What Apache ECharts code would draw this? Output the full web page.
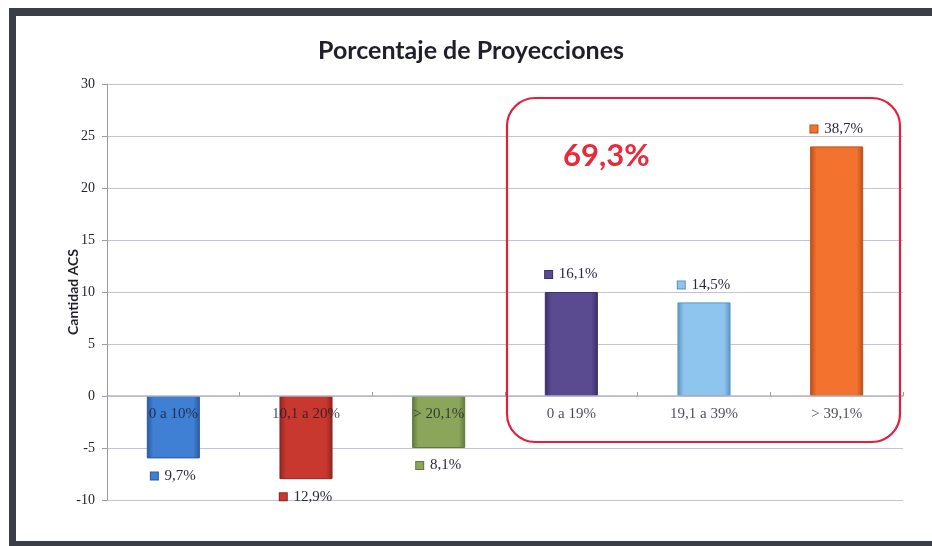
<!DOCTYPE html>
<html>
<head>
<meta charset="utf-8">
<script src="https://cdn.jsdelivr.net/npm/echarts@6/dist/echarts.min.js"></script>
<style>
  html, body { margin: 0; padding: 0; background: #fff; }
  #chart { width: 932px; height: 546px; }
</style>
</head>
<body>
<div id="chart"></div>
<script>
// datos
const categories = ["0 a 10%", "10,1 a 20%", "> 20,1%", "0 a 19%", "19,1 a 39%", "> 39,1%"];
const values = [-6, -8, -5, 10, 9, 24];
const percentLabels = ["9,7%", "12,9%", "8,1%", "16,1%", "14,5%", "38,7%"];
const barColors = ["#3f7fd4", "#c8382f", "#8ba65a", "#5a4a90", "#8ec5ef", "#f2722e"];
const edgeColors = ["#2a5a9c", "#8e2520", "#5f7a3a", "#3a2f66", "#5b93bf", "#b84e1a"];
const yTicks = [-10, 30, 5];
const totalLabel = "69,3%";

const chart = echarts.init(document.getElementById("chart"));

const seriesData = values.map((v, i) => ({
  value: v,
  itemStyle: {
    color: new echarts.graphic.LinearGradient(0, 0, 1, 0, [
      { offset: 0, color: edgeColors[i] },
      { offset: 0.12, color: barColors[i] },
      { offset: 0.88, color: barColors[i] },
      { offset: 1, color: edgeColors[i] }
    ]),
    borderColor: edgeColors[i],
    borderWidth: 1
  },
  label: {
    position: v < 0 ? "bottom" : "top",
    formatter: "{sq|}  {t|" + percentLabels[i] + "}",
    rich: {
      sq: { width: 7, height: 7, backgroundColor: barColors[i], borderColor: edgeColors[i], borderWidth: 1 },
      t: { fontFamily: "Liberation Serif", fontSize: 15, color: "#2a2a3a" }
    }
  }
}));

chart.setOption({
  animation: false,
  backgroundColor: "#fff",
  title: {
    text: "Porcentaje de Proyecciones",
    left: 466,
    textAlign: "center",
    top: 33,
    textStyle: { fontFamily: "Lato", fontWeight: "bold", fontSize: 25, color: "#1f1f2a" }
  },
  grid: { left: 107, right: 29, top: 84, bottom: 46 },
  xAxis: {
    type: "category",
    data: categories,
    z: 5,
    axisLine: { onZero: true, lineStyle: { color: "#b8b8c8", width: 1.5 } },
    axisTick: { show: true, inside: true, length: 4, lineStyle: { color: "#9a9aaa" } },
    axisLabel: { show: false },
    splitLine: { show: false }
  },
  yAxis: {
    type: "value",
    min: yTicks[0],
    max: yTicks[1],
    interval: yTicks[2],
    name: "Cantidad ACS",
    nameLocation: "middle",
    nameGap: 27,
    nameMoveOverlap: false,
    nameTextStyle: { fontFamily: "Lato", fontWeight: "bold", fontSize: 14, color: "#1f1f2a" },
    axisLine: { show: true, lineStyle: { color: "#9a9aa8" } },
    axisTick: { show: true, length: 5, lineStyle: { color: "#9a9aa8" } },
    axisLabel: { margin: 12, fontFamily: "Liberation Serif", fontSize: 14, color: "#1f1f2a" },
    splitLine: { lineStyle: { color: "#c4c4d4", width: 1.2 } }
  },
  series: [{
    type: "bar",
    data: seriesData,
    barWidth: "40%",
    label: { show: true, distance: 10 }
  }, {
    // nombres de categoría anclados en la línea del cero
    type: "scatter",
    z: 6,
    symbolSize: 0,
    silent: true,
    data: categories.map(() => 0),
    label: {
      show: true,
      position: "bottom",
      distance: 11,
      formatter: (p) => categories[p.dataIndex],
      fontFamily: "Liberation Serif",
      fontSize: 15,
      color: "#1c1c30"
    }
  }],
  graphic: [
    // marco oscuro
    { type: "rect", shape: { x: 9, y: 8, width: 923, height: 8 }, style: { fill: "#3b3e47" } },
    { type: "rect", shape: { x: 9, y: 8, width: 7, height: 538 }, style: { fill: "#3b3e47" } },
    { type: "rect", shape: { x: 9, y: 541, width: 923, height: 5 }, style: { fill: "#3b3e47" } },
    // recuadro rojo
    {
      type: "rect", z: 10,
      shape: { x: 507, y: 98, width: 393, height: 344, r: 28 },
      style: { fill: "none", stroke: "#e0203c", lineWidth: 2.2 }
    },
    {
      type: "text", z: 10, left: 563, top: 140,
      style: { text: totalLabel, fill: "#e82a3a", font: "bold 31px Lato" }
    }
  ]
});
</script>
</body>
</html>
